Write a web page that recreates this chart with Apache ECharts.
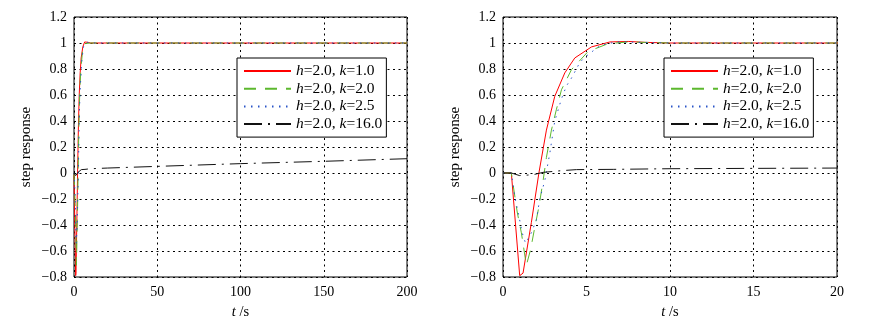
<!DOCTYPE html>
<html>
<head>
<meta charset="utf-8">
<script src="https://cdn.jsdelivr.net/npm/echarts/dist/echarts.min.js"></script>
<style>
  html, body { margin: 0; padding: 0; background: #fff; }
  #chart { width: 875px; height: 326px; }
</style>
</head>
<body>
<div id="chart"></div>
<script>
// Step responses for h = 2.0 and four values of k (time in seconds)
const tK1 = [0, 0.5, 1.0, 1.2, 1.7, 2.15, 2.6, 3.1, 3.7, 4.3, 5.3, 6.4, 7.5, 8.5, 10, 20, 200];
const yK1 = [0, 0, -0.79, -0.77, -0.38, 0.0, 0.33, 0.59, 0.77, 0.885, 0.97, 1.008, 1.012, 1.005, 1.0, 1.0, 1.0];

const tK2 = [0, 0.5, 0.85, 1.1, 1.4, 1.65, 1.9, 2.15, 2.4, 2.6, 2.9, 3.2, 3.5, 4.1, 5.1, 6.3, 7.5, 10, 20, 200];
const yK2 = [0, 0, -0.3, -0.46, -0.71, -0.59, -0.42, -0.26, -0.06, 0.12, 0.33, 0.49, 0.64, 0.795, 0.935, 0.995, 1.008, 1.0, 1.0, 1.0];

const tK25 = [0, 0.5, 0.7, 0.95, 1.15, 1.35, 1.7, 2.0, 2.2, 2.5, 2.8, 3.1, 3.5, 3.8, 4.1, 4.6, 4.9, 5.7, 6.2, 7.0, 8.0, 10, 20, 200];
const yK25 = [0, 0, -0.18, -0.33, -0.46, -0.54, -0.46, -0.36, -0.2, -0.06, 0.15, 0.40, 0.57, 0.67, 0.73, 0.85, 0.89, 0.97, 0.995, 1.01, 1.005, 1.0, 1.0, 1.0];

const tK16 = [0, 0.5, 1.0, 1.8, 2.4, 3.5, 4.4, 6.6, 10, 20, 50, 100, 150, 200];
const yK16 = [0, 0, -0.02, -0.013, 0.005, 0.018, 0.026, 0.028, 0.033, 0.038, 0.051, 0.072, 0.09, 0.11];

const seriesNames = ['k1', 'k2', 'k25', 'k16'];
const legendText = {
  k1: '{i|h}=2.0, {i|k}=1.0',
  k2: '{i|h}=2.0, {i|k}=2.0',
  k25: '{i|h}=2.0, {i|k}=2.5',
  k16: '{i|h}=2.0, {i|k}=16.0'
};

const xTicksLeft = { min: 0, max: 200, interval: 50 };
const xTicksRight = { min: 0, max: 20, interval: 5 };
const yTicks = { min: -0.8, max: 1.2, interval: 0.2 };

const FONT = "'Liberation Serif', 'Times New Roman', serif";

function zip(t, y) { return t.map((v, i) => [v, y[i]]); }

const curves = [
  { name: 'k1', data: zip(tK1, yK1), color: '#ff0000', type: 'solid' },
  { name: 'k2', data: zip(tK2, yK2), color: '#5cb82e', type: [12, 9] },
  { name: 'k25', data: zip(tK25, yK25), color: '#2a55c8', type: [1.5, 5.5] },
  { name: 'k16', data: zip(tK16, yK16), color: '#111111', type: [18, 6, 2, 6] }
];

function yLabel(v) {
  const r = Math.round(v * 10) / 10;
  if (r === 0) return '0';
  const s = String(Math.abs(r));
  return r < 0 ? '\u2212' + s : s;
}

const gridLine = { show: true, lineStyle: { color: '#000', width: 1, type: [2, 3.5] } };

function xAxis(idx, ticks) {
  return {
    type: 'value', gridIndex: idx, min: ticks.min, max: ticks.max, interval: ticks.interval,
    axisLine: { show: false }, axisTick: { show: false },
    axisLabel: { color: '#000', fontFamily: FONT, fontSize: 14, margin: 8 },
    splitLine: gridLine,
    name: '{i|t} /s', nameLocation: 'middle', nameGap: 28,
    nameTextStyle: { color: '#000', fontFamily: FONT, fontSize: 14.5,
      rich: { i: { fontStyle: 'italic', fontFamily: FONT, fontSize: 14.5, color: '#000' } } }
  };
}

function yAxis(idx) {
  return {
    type: 'value', gridIndex: idx, min: yTicks.min, max: yTicks.max, interval: yTicks.interval,
    axisLine: { show: false }, axisTick: { show: false },
    axisLabel: { color: '#000', fontFamily: FONT, fontSize: 14, margin: 7, formatter: yLabel },
    splitLine: gridLine,
    name: 'step response', nameLocation: 'middle', nameGap: 40,
    nameTextStyle: { color: '#000', fontFamily: FONT, fontSize: 15 }
  };
}

function legend(left) {
  return {
    orient: 'vertical', left: left, top: 58,
    data: seriesNames,
    backgroundColor: '#fff', borderColor: '#000', borderWidth: 1,
    padding: [5, 4, 5, 6], itemGap: 1.7, itemWidth: 47, itemHeight: 15,
    itemStyle: { opacity: 0 },
    formatter: n => legendText[n],
    textStyle: { color: '#000', fontFamily: FONT, fontSize: 15.5, lineHeight: 15,
      rich: { i: { fontStyle: 'italic', fontFamily: FONT, fontSize: 15.5, color: '#000' } } },
    selectedMode: false
  };
}

const series = [];
[0, 1].forEach(g => {
  curves.forEach(c => {
    series.push({
      type: 'line', name: c.name, xAxisIndex: g, yAxisIndex: g,
      data: c.data, symbol: 'none', showSymbol: false, animation: false, clip: true,
      itemStyle: { color: c.color },
      lineStyle: { color: c.color, width: 1, type: c.type }
    });
  });
});

const chart = echarts.init(document.getElementById('chart'), null, { renderer: 'canvas' });
chart.setOption({
  animation: false,
  backgroundColor: '#fff',
  grid: [
    { left: 74, top: 17, width: 333, height: 260, show: true, borderColor: '#000', borderWidth: 1, backgroundColor: 'transparent' },
    { left: 503, top: 17, width: 334, height: 260, show: true, borderColor: '#000', borderWidth: 1, backgroundColor: 'transparent' }
  ],
  xAxis: [xAxis(0, xTicksLeft), xAxis(1, xTicksRight)],
  yAxis: [yAxis(0), yAxis(1)],
  legend: [legend(237), legend(664)],
  series: series
});
</script>
</body>
</html>
